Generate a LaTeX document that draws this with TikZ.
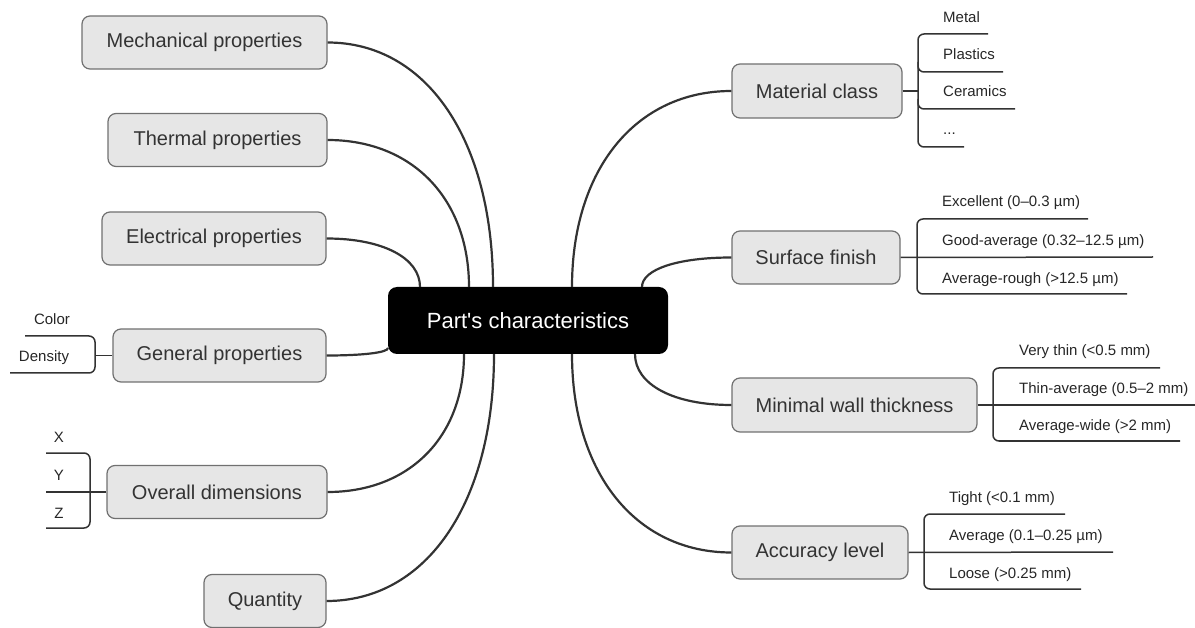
\documentclass[tikz,border=0pt]{standalone}
\usepackage{fontspec}
\setmainfont{Liberation Sans}
\usetikzlibrary{calc}
\definecolor{boxfill}{HTML}{E6E6E6}
\definecolor{boxdraw}{HTML}{707070}
\definecolor{linec}{HTML}{333333}
\definecolor{txt}{HTML}{333333}
\tikzset{
 topic/.style={draw=boxdraw, fill=boxfill, line width=1.2pt, rounded corners=8pt, minimum height=53pt, inner sep=0pt, text=txt, font=\fontsize{20}{24}\selectfont},
 central/.style={fill=black, rounded corners=9pt, minimum width=280pt, minimum height=67pt, inner sep=0pt, text=white, font=\fontsize{22}{26}\selectfont},
 conn/.style={draw=linec, line width=2.2pt},
 leafline/.style={draw=linec, line width=1.5pt, rounded corners=6pt},
 leaf/.style={inner sep=0pt, text height=0.72em, text depth=0pt, text=black!85, font=\fontsize{15}{18}\selectfont},
}
\newcommand\mmcurve[2]{\draw[conn] (#1) .. controls ($(#1)!0.6!(#1|-#2)$) and ($(#2)!0.6!(#2-|#1)$) .. (#2);}
\begin{document}
\begin{tikzpicture}[x=1pt,y=-1pt]
\useasboundingbox (0,0) rectangle (1195,628);
% central node
\node[central] (pc) at (528,320.5) {Part\textquotesingle s characteristics};
% left topics
\node[topic, minimum width=245pt] (mech) at (204.5,42.5) {Mechanical properties};
\node[topic, minimum width=219pt] (therm) at (217.5,140) {Thermal properties};
\node[topic, minimum width=224pt] (elec) at (214,238.5) {Electrical properties};
\node[topic, minimum width=213pt] (gen) at (219.5,355.5) {General properties};
\node[topic, minimum width=220pt] (over) at (217,492) {Overall dimensions};
\node[topic, minimum width=122pt] (quant) at (265,601) {Quantity};
% right topics
\node[topic, minimum width=170pt, minimum height=54pt] (mat) at (817,91) {Material class};
\node[topic, minimum width=168pt] (surf) at (816,257.5) {Surface finish};
\node[topic, minimum width=245pt, minimum height=54pt] (wall) at (854.5,405) {Minimal wall thickness};
\node[topic, minimum width=176pt] (acc) at (820,552.5) {Accuracy level};
% attachment points on central node
\coordinate (sElec) at (420,287);
\coordinate (sTherm) at (469,287);
\coordinate (sMech) at (493,287);
\coordinate (sMat) at (572,287);
\coordinate (sSurf) at (642,287);
\coordinate (sOver) at (464,354);
\coordinate (sQuant) at (494,354);
\coordinate (sAcc) at (572,354);
\coordinate (sWall) at (635,354);
\coordinate (sGen) at (388,348);
% connectors
\mmcurve{sMech}{mech.east}
\mmcurve{sTherm}{therm.east}
\mmcurve{sElec}{elec.east}
\mmcurve{sGen}{gen.east}
\mmcurve{sOver}{over.east}
\mmcurve{sQuant}{quant.east}
\mmcurve{sMat}{mat.west}
\mmcurve{sSurf}{surf.west}
\mmcurve{sWall}{wall.west}
\mmcurve{sAcc}{acc.west}
% ---- General properties leaves
\coordinate (gB) at (96,355.5);
\draw[leafline] (gen.west) -- (gB);
\draw[leafline] (25,336) -- (95,336) -- (95,373) -- (10,373);
\node[leaf] (color) at (52,321) {Color};
\node[leaf] (density) at (44,358) {Density};
% ---- Overall dimensions leaves
\coordinate (oB) at (46,492);
\draw[leafline] (over.west) -- (oB);
\draw[leafline] (46,453) -- (90,453) -- (90,528) -- (46,528);
\node[leaf] (lx) at (59,439) {X};
\node[leaf] (ly) at (59,477) {Y};
\node[leaf] (lz) at (59,515) {Z};
% ---- Material class leaves
\coordinate (mB) at (918,91);
\draw[leafline] (mat.east) -- (mB);
\draw[leafline] (988,34) -- (918,34) -- (918,147) -- (964,147);
\draw[leafline] (918,62) -- (918,72) -- (1003,72);
\draw[leafline] (918,99) -- (918,109) -- (1015,109);
\node[leaf, anchor=west] (metal) at (943,19) {Metal};
\node[leaf, anchor=west] (plastics) at (943,56) {Plastics};
\node[leaf, anchor=west] (ceramics) at (943,93) {Ceramics};
\node[leaf, anchor=west] (dots) at (943,131) {...};
% ---- Surface finish leaves
\coordinate (sfE) at (1153,257);
\draw[leafline] (surf.east) -- (sfE);
\draw[leafline] (1088,219) -- (917,219) -- (917,294) -- (1127,294);
\node[leaf, anchor=west] (exc) at (942,203) {Excellent (0–0.3 µm)};
\node[leaf, anchor=west] (good) at (942,242) {Good-average (0.32–12.5 µm)};
\node[leaf, anchor=west] (rough) at (942,280) {Average-rough (>12.5 µm)};
% ---- Minimal wall thickness leaves
\coordinate (wE) at (1195,405);
\draw[leafline] (wall.east) -- (wE);
\draw[leafline] (1160,368) -- (993,368) -- (993,441) -- (1180,441);
\node[leaf, anchor=west] (vthin) at (1019,352) {Very thin (<0.5 mm)};
\node[leaf, anchor=west] (thinav) at (1019,390) {Thin-average (0.5–2 mm)};
\node[leaf, anchor=west] (avwide) at (1019,427) {Average-wide (>2 mm)};
% ---- Accuracy level leaves
\coordinate (aE) at (1113,552);
\draw[leafline] (acc.east) -- (aE);
\draw[leafline] (1065,514) -- (924,514) -- (924,589) -- (1081,589);
\node[leaf, anchor=west] (tight) at (949,499) {Tight (<0.1 mm)};
\node[leaf, anchor=west] (avg) at (949,537) {Average (0.1–0.25 µm)};
\node[leaf, anchor=west] (loose) at (949,575) {Loose (>0.25 mm)};
\end{tikzpicture}
\end{document}
